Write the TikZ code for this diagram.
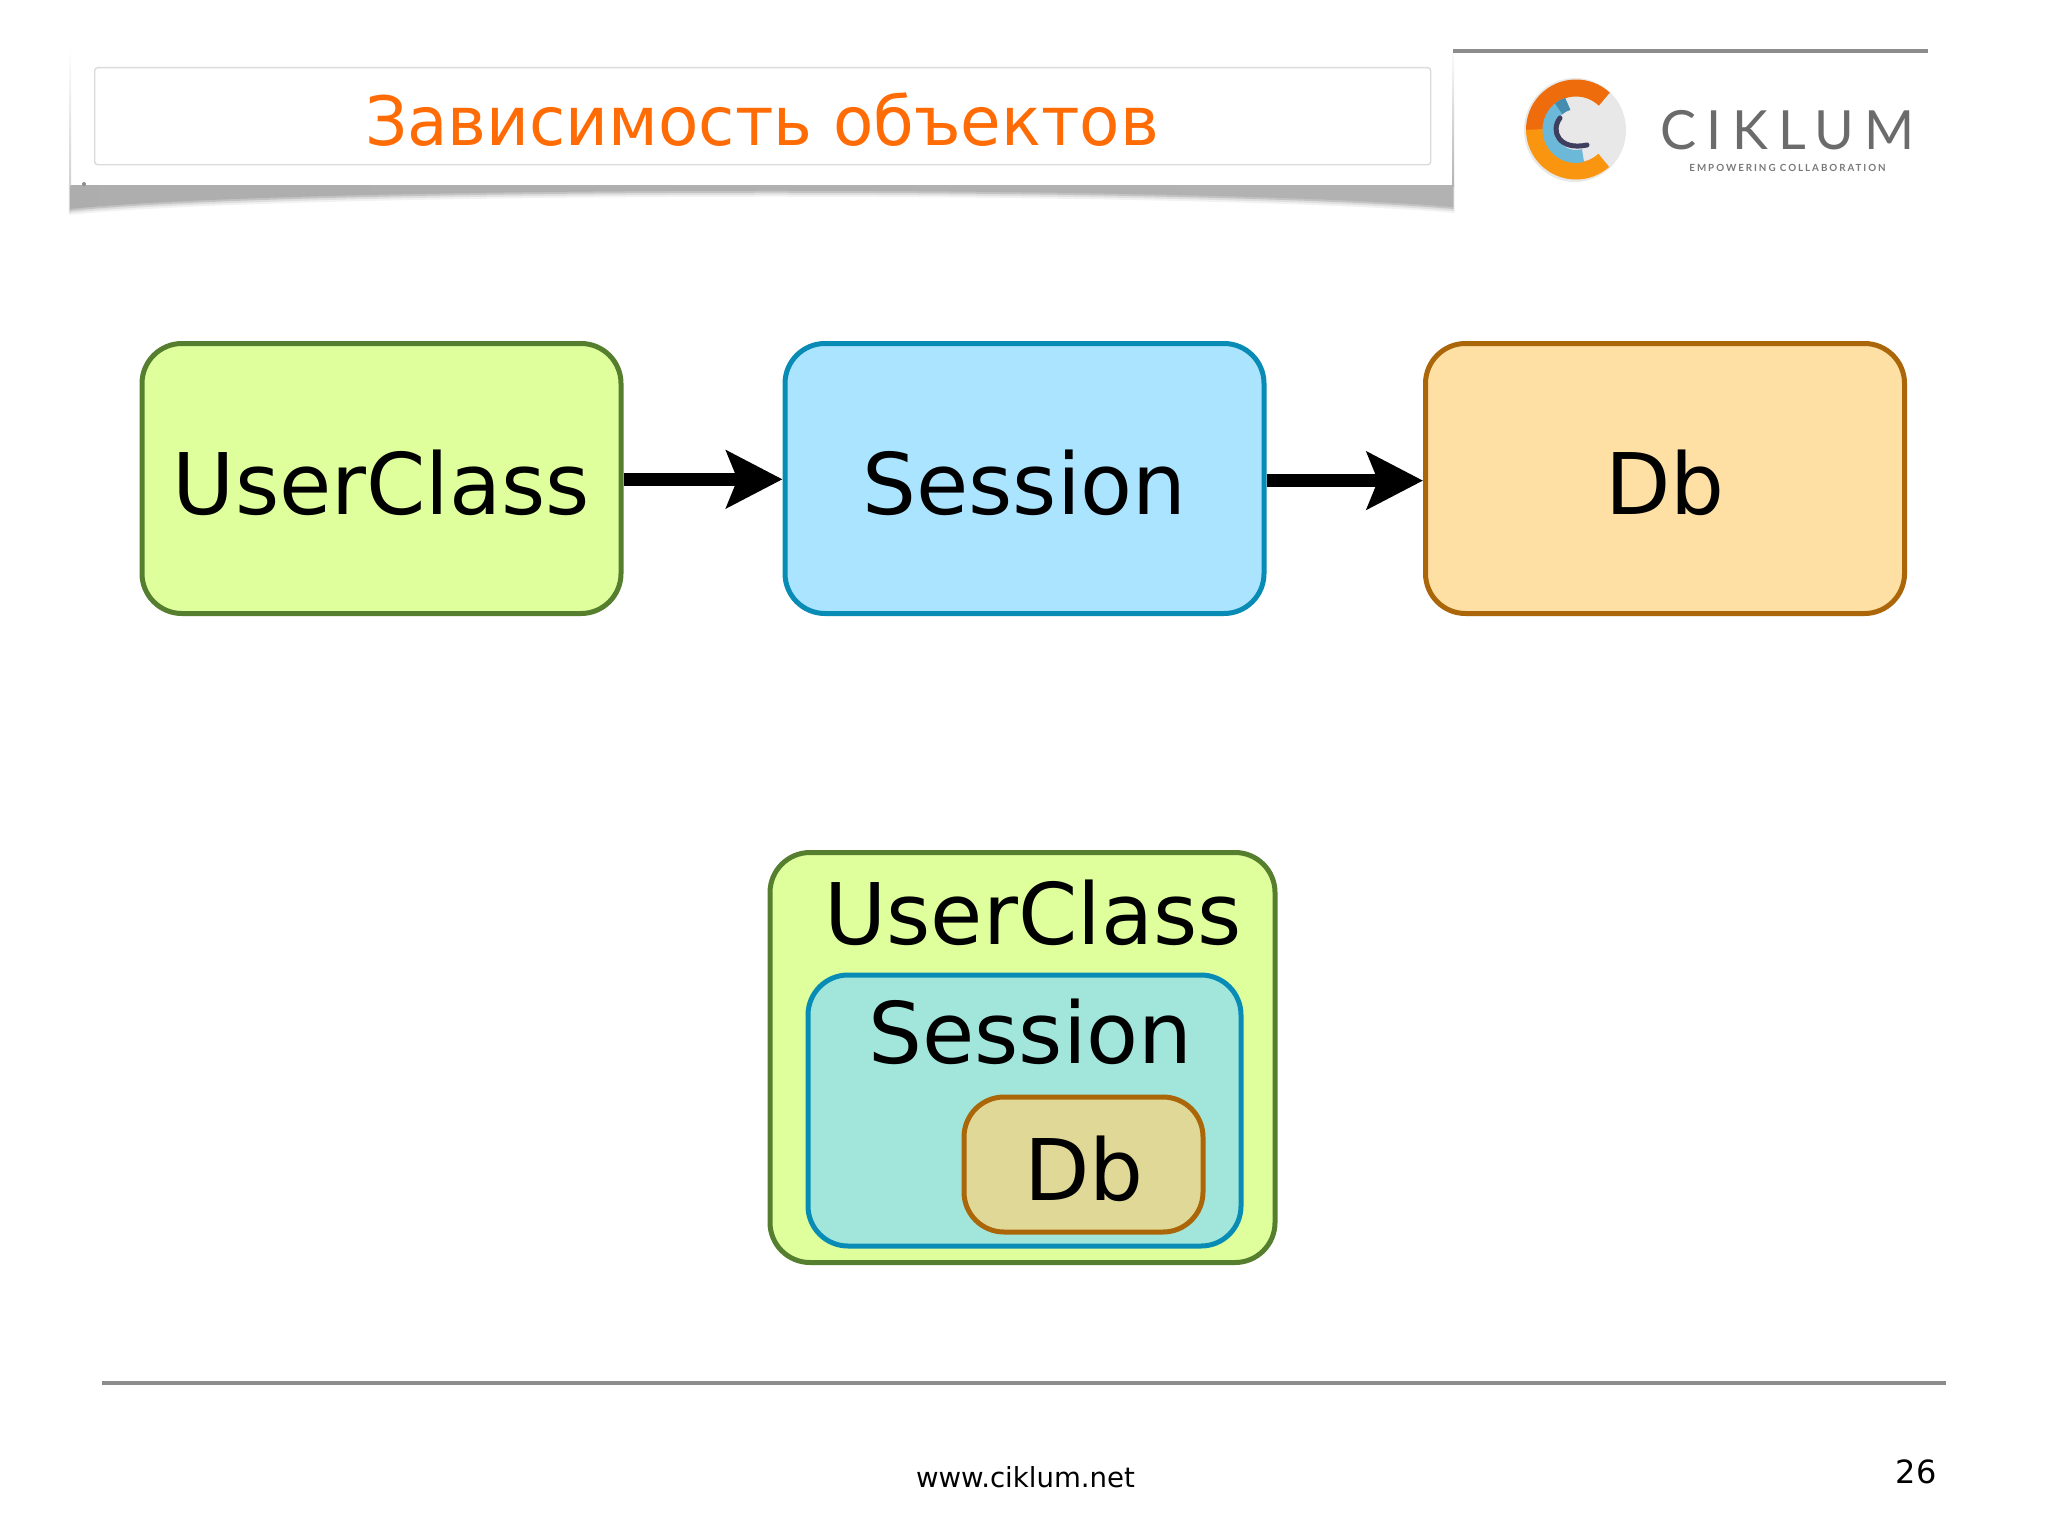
\documentclass[tikz,border=0pt]{standalone}
\usepackage{fontspec}
\setmainfont{DejaVu Sans}
\newfontfamily\titlefont[FakeStretch=.97]{DejaVu Sans}
\newfontfamily\logofont[LetterSpace=19]{Lato}
\newfontfamily\logotiny[LetterSpace=20]{Lato}
\usetikzlibrary{arrows.meta}
\definecolor{gfill}{RGB}{223,255,156}
\definecolor{gline}{RGB}{86,126,47}
\definecolor{bfill}{RGB}{171,228,255}
\definecolor{bline}{RGB}{8,140,181}
\definecolor{ofill}{RGB}{254,223,164}
\definecolor{oline}{RGB}{170,102,8}
\definecolor{b2fill}{RGB}{162,230,219}
\definecolor{o2fill}{RGB}{224,216,150}
\definecolor{rulegray}{RGB}{140,140,140}
\definecolor{titleorange}{RGB}{255,107,5}
\definecolor{ringdark}{RGB}{238,108,11}
\definecolor{ringlight}{RGB}{250,149,15}
\definecolor{ringblue}{RGB}{108,184,216}
\definecolor{ringteal}{RGB}{70,140,175}
\definecolor{ringnavy}{RGB}{62,63,94}
\tikzset{
  x=.5pt,y=-.5pt,
  bigtext/.style={font=\fontsize{42.5}{50}\selectfont,text=black},
  box/.style={draw,line width=2.5pt,rounded corners=20pt,inner sep=0pt,anchor=north west,
    bigtext,text height=35.5pt,text depth=0pt},
  greenbox/.style={box,fill=gfill,draw=gline},
  bluebox/.style={box,fill=bfill,draw=bline},
  orangebox/.style={box,fill=ofill,draw=oline},
  flat/.style={line width=2pt,rulegray},
  conn/.style={line width=6.8pt,-{Stealth[length=28pt,width=28.5pt,inset=5.5pt]}},
  biglabel/.style={bigtext,anchor=base,inner sep=0pt},
}
\begin{document}
\begin{tikzpicture}
\useasboundingbox (0,0) rectangle (2048,1536);
\fill[white] (0,0) rectangle (2048,1536);
% title sheet: soft shadow
\foreach \d/\o in {6/.05,4/.08,2/.12}{
  \fill[black,opacity=\o] (70-\d/4,185) -- (1453+\d/4,185) -- (1453+\d/4,207+\d)
     .. controls (1200,185+\d) and (300,185+\d) .. (70-\d/4,209+\d) -- cycle;
}
\shade[left color=black!32,middle color=black!52,right color=black!30]
  (70,185) -- (1453,185) -- (1453,207) .. controls (1200,185) and (300,185) .. (70,209) -- cycle;
\fill[white] (70,45) rectangle (1453,185);
\shade[top color=white,bottom color=black!18] (69,45) rectangle (71,185);
\shade[top color=white,bottom color=black!30] (1452,45) rectangle (1454,186);
\fill[black!45] (84,184) circle[radius=2];
\node[draw=black!14,line width=.7pt,rounded corners=1.5pt,minimum width=668pt,minimum height=48.5pt,anchor=north west,inner sep=0pt] (titlebox) at (94,67) {};
\node[anchor=base,inner sep=0pt,text=titleorange,font=\fontsize{34}{40}\titlefont] (title) at (762,145) {Зависимость объектов};
\draw[flat] (1453,51) -- (1928,51);
% logo
\fill[black!9] (1575,130) ellipse [x radius=51,y radius=52];
\begin{scope}[shift={(1576,129.5)},y=.5pt]
  \draw[line width=8.5pt,ringdark] (47:41.5) arc[start angle=47,end angle=181,radius=41.5];
  \draw[line width=8.5pt,ringlight] (180:41.5) arc[start angle=180,end angle=312,radius=41.5];
  \draw[line width=6.5pt,ringblue] (108:27) arc[start angle=108,end angle=285,radius=27];
  \draw[line width=6.5pt,ringteal] (108:27) arc[start angle=108,end angle=130,radius=27];
\end{scope}
\draw[line width=2.5pt,line cap=round,ringnavy] (1560,118) .. controls (1550,131) and (1559,151) .. (1587,145);
\node[anchor=base west,inner sep=0pt,text=black!58,font=\fontsize{27}{30}\logofont] (logoname) at (1660,149) {CIKLUM};
\node[anchor=base west,inner sep=0pt,text=black!52,font=\fontsize{4.9}{6}\logotiny\bfseries] (logotag) at (1689,171) {EMPOWERING COLLABORATION};
% top row
\node[greenbox,minimum width=239.5pt,minimum height=135pt] (uc) at (139.5,341) {UserClass};
\node[bluebox,minimum width=239.5pt,minimum height=135pt] (se) at (782.5,341) {Session};
\node[orangebox,minimum width=239.5pt,minimum height=135pt] (db) at (1423,341) {Db};
\draw[conn] ([yshift=-.4pt]uc.east) -- ([yshift=-.4pt]se.west);
\draw[conn] ([yshift=-1.05pt]se.east) -- ([yshift=-1.05pt]db.west);
% nested
\node[greenbox,minimum width=252.5pt,minimum height=205pt] (ucn) at (767.5,850) {};
\node[bluebox,fill=b2fill,minimum width=216.5pt,minimum height=135.5pt] (sen) at (805.5,972.5) {};
\node[orangebox,fill=o2fill,minimum width=119.5pt,minimum height=67.5pt] (dbn) at (961.5,1094.5) {};
\node[biglabel] (ucl) at (1033,944) {UserClass};
\node[biglabel] (sel) at (1030.5,1063) {Session};
\node[biglabel] (dbl) at (1084,1200) {Db};
% footer
\draw[flat] (102,1383) -- (1946,1383);
\node[anchor=base,inner sep=0pt,font=\fontsize{13.8}{16}\selectfont] (site) at (1025.5,1487) {www.ciklum.net};
\node[anchor=base,inner sep=0pt,font=\fontsize{16}{18}\selectfont] (pageno) at (1916,1483) {26};
\end{tikzpicture}
\end{document}
